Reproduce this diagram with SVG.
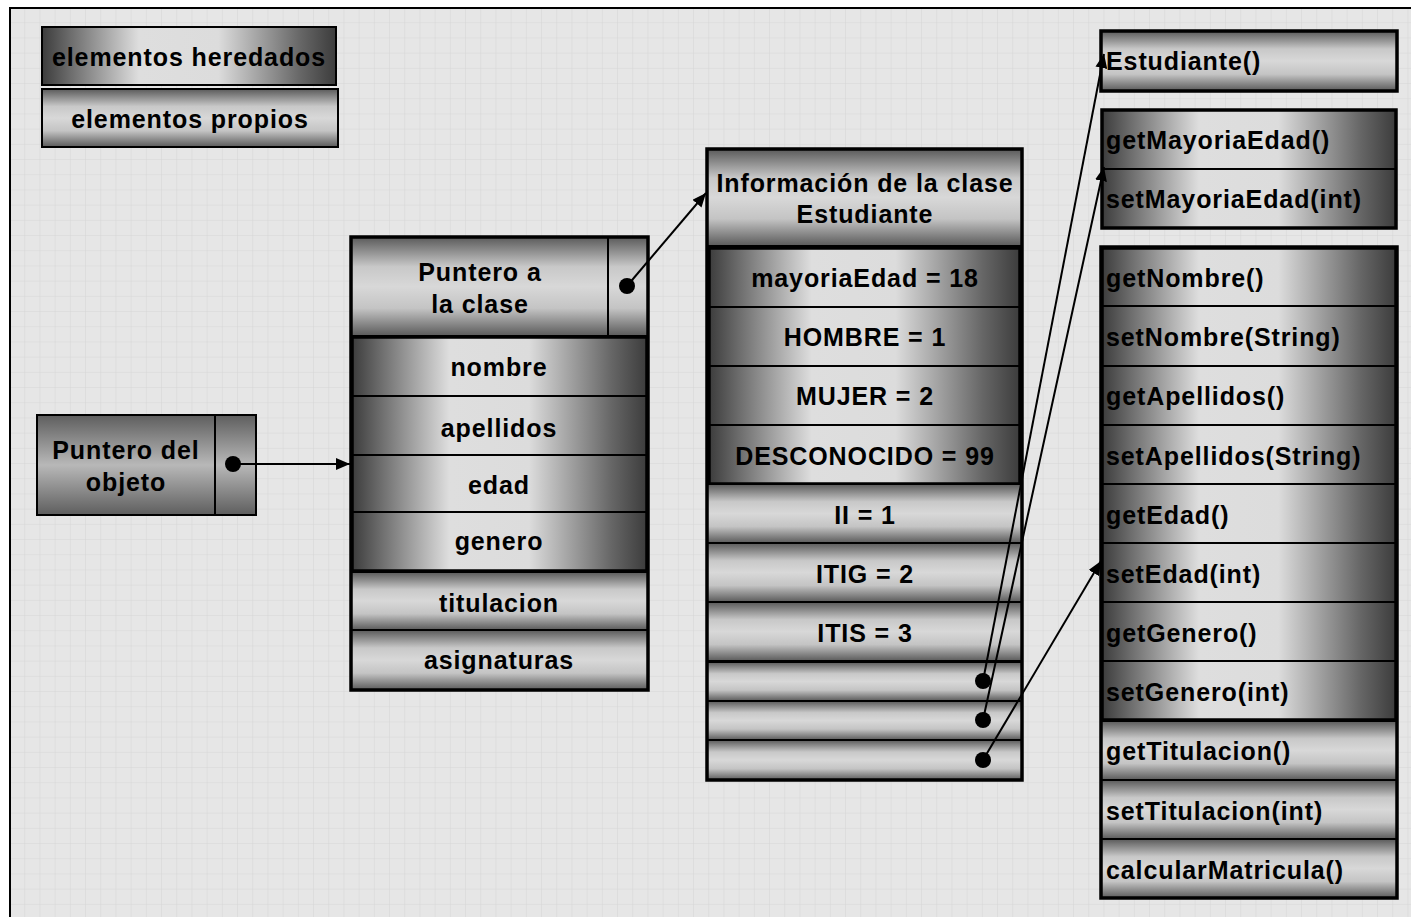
<svg xmlns="http://www.w3.org/2000/svg" width="1411" height="917" viewBox="0 0 1411 917">
  <defs>
    <style>
      text { font-family: "Liberation Sans", Arial, sans-serif; font-weight: bold; font-size: 25px; letter-spacing: 0.9px; fill: #000; }
      .c { text-anchor: middle; }
      .l { text-anchor: start; }
      .her { fill: url(#gHer); stroke: #000; stroke-width: 2; }
      .pro { fill: url(#gPro); stroke: #000; stroke-width: 2; }
      .ptr { fill: url(#gPtr); stroke: #000; stroke-width: 2; }
      .box { fill: none; stroke: #000; stroke-width: 3.5; }
      .sep { stroke: #000; stroke-width: 2; }
      .conn { stroke: #000; stroke-width: 2; fill: none; }
      .dot { fill: #000; }
    </style>
    <!-- inherited members: dark edges, light centre, horizontal -->
    <linearGradient id="gHer" x1="0" y1="0" x2="1" y2="0">
      <stop offset="0" stop-color="#3c3c3c"/>
      <stop offset="0.1" stop-color="#6e6e6e"/>
      <stop offset="0.33" stop-color="#dedede"/>
      <stop offset="0.6" stop-color="#dcdcdc"/>
      <stop offset="0.88" stop-color="#666666"/>
      <stop offset="1" stop-color="#3c3c3c"/>
    </linearGradient>
    <!-- own members: dark top/bottom, light centre, vertical -->
    <linearGradient id="gPro" x1="0" y1="0" x2="0" y2="1">
      <stop offset="0" stop-color="#5a5a5a"/>
      <stop offset="0.3" stop-color="#c8c8c8"/>
      <stop offset="0.5" stop-color="#d8d8d8"/>
      <stop offset="0.72" stop-color="#c4c4c4"/>
      <stop offset="1" stop-color="#5a5a5a"/>
    </linearGradient>
    <!-- object pointer: darker vertical shading -->
    <linearGradient id="gPtr" x1="0" y1="0" x2="0" y2="1">
      <stop offset="0" stop-color="#5e5e5e"/>
      <stop offset="0.5" stop-color="#b8b8b8"/>
      <stop offset="1" stop-color="#5e5e5e"/>
    </linearGradient>
    <pattern id="grid" x="10" y="8" width="15.2" height="15.2" patternUnits="userSpaceOnUse">
      <rect width="15.2" height="15.2" fill="#e6e6e6"/>
      <path d="M15.2 0V15.2M0 15.2H15.2" stroke="#d6d6d6" stroke-width="1"/>
    </pattern>
    <marker id="arrow" viewBox="0 0 14 12" refX="14" refY="6" markerWidth="14" markerHeight="12" markerUnits="userSpaceOnUse" orient="auto">
      <path d="M0 0L14 6L0 12z" fill="#000"/>
    </marker>
  </defs>

  <!-- canvas -->
  <rect width="1411" height="917" fill="#fff"/>
  <rect x="10" y="8" width="1420" height="930" fill="url(#grid)" stroke="#000" stroke-width="2"/>

  <!-- legend -->
  <g id="legend-heredados">
    <rect x="42" y="27" width="294" height="58" class="her"/>
    <text x="189" y="66" class="c">elementos heredados</text>
  </g>
  <g id="legend-propios">
    <rect x="42" y="89" width="296" height="58" class="pro"/>
    <text x="190" y="128" class="c">elementos propios</text>
  </g>

  <!-- object pointer -->
  <g id="puntero-objeto">
    <rect x="37" y="415" width="219" height="100" class="ptr"/>
    <line x1="215" y1="415" x2="215" y2="515" class="sep"/>
    <text x="126" y="459" class="c">Puntero del</text>
    <text x="126" y="491" class="c">objeto</text>
  </g>

  <!-- object instance -->
  <g id="objeto">
    <rect x="351" y="237" width="297" height="99" class="pro"/>
    <line x1="608" y1="237" x2="608" y2="336" class="sep"/>
    <text x="480" y="281" class="c">Puntero a</text>
    <text x="480" y="313" class="c">la clase</text>
    <rect x="352" y="337" width="295" height="59" class="her"/>
    <text x="499" y="376" class="c">nombre</text>
    <rect x="352" y="396" width="295" height="59" class="her"/>
    <text x="499" y="437" class="c">apellidos</text>
    <rect x="352" y="455" width="295" height="57" class="her"/>
    <text x="499" y="494" class="c">edad</text>
    <rect x="352" y="512" width="295" height="59" class="her"/>
    <text x="499" y="550" class="c">genero</text>
    <rect x="352" y="337" width="295" height="234" class="box"/>
    <rect x="351" y="572" width="297" height="58" class="pro"/>
    <text x="499" y="612" class="c">titulacion</text>
    <rect x="351" y="630" width="297" height="60" class="pro"/>
    <text x="499" y="669" class="c">asignaturas</text>
    <rect x="351" y="237" width="297" height="453" class="box"/>
  </g>

  <!-- class information -->
  <g id="info-clase">
    <rect x="707" y="149" width="315" height="97" class="pro"/>
    <text x="865" y="192" class="c">Información de la clase</text>
    <text x="865" y="223" class="c">Estudiante</text>
    <rect x="709" y="248" width="311" height="59" class="her"/>
    <text x="865" y="287" class="c">mayoriaEdad = 18</text>
    <rect x="709" y="307" width="311" height="59" class="her"/>
    <text x="865" y="346" class="c">HOMBRE = 1</text>
    <rect x="709" y="366" width="311" height="59" class="her"/>
    <text x="865" y="405" class="c">MUJER = 2</text>
    <rect x="709" y="425" width="311" height="59" class="her"/>
    <text x="865" y="465" class="c">DESCONOCIDO = 99</text>
    <rect x="709" y="248" width="311" height="236" class="box"/>
    <rect x="707" y="484" width="315" height="59" class="pro"/>
    <text x="865" y="524" class="c">II = 1</text>
    <rect x="707" y="543" width="315" height="59" class="pro"/>
    <text x="865" y="583" class="c">ITIG = 2</text>
    <rect x="707" y="602" width="315" height="59" class="pro"/>
    <text x="865" y="642" class="c">ITIS = 3</text>
    <rect x="707" y="662" width="315" height="39" class="pro"/>
    <rect x="707" y="701" width="315" height="39" class="pro"/>
    <rect x="707" y="740" width="315" height="40" class="pro"/>
    <rect x="707" y="149" width="315" height="631" class="box"/>
  </g>

  <!-- methods -->
  <g id="constructor">
    <rect x="1101" y="31" width="296" height="60" class="pro"/>
    <text x="1106" y="70" class="l">Estudiante()</text>
    <rect x="1101" y="31" width="296" height="60" class="box"/>
  </g>
  <g id="metodos-clase">
    <rect x="1102" y="110" width="294" height="59" class="her"/>
    <text x="1106" y="149" class="l">getMayoriaEdad()</text>
    <rect x="1102" y="169" width="294" height="59" class="her"/>
    <text x="1106" y="208" class="l">setMayoriaEdad(int)</text>
    <rect x="1102" y="110" width="294" height="118" class="box"/>
  </g>
  <g id="metodos-instancia">
    <rect x="1102" y="248" width="294" height="58" class="her"/>
    <text x="1106" y="287" class="l">getNombre()</text>
    <rect x="1102" y="306" width="294" height="60" class="her"/>
    <text x="1106" y="346" class="l">setNombre(String)</text>
    <rect x="1102" y="366" width="294" height="59" class="her"/>
    <text x="1106" y="405" class="l">getApellidos()</text>
    <rect x="1102" y="425" width="294" height="59" class="her"/>
    <text x="1106" y="465" class="l">setApellidos(String)</text>
    <rect x="1102" y="484" width="294" height="59" class="her"/>
    <text x="1106" y="524" class="l">getEdad()</text>
    <rect x="1102" y="543" width="294" height="59" class="her"/>
    <text x="1106" y="583" class="l">setEdad(int)</text>
    <rect x="1102" y="602" width="294" height="59" class="her"/>
    <text x="1106" y="642" class="l">getGenero()</text>
    <rect x="1102" y="661" width="294" height="59" class="her"/>
    <text x="1106" y="701" class="l">setGenero(int)</text>
    <rect x="1102" y="248" width="294" height="472" class="box"/>
    <rect x="1101" y="721" width="296" height="59" class="pro"/>
    <text x="1106" y="760" class="l">getTitulacion()</text>
    <rect x="1101" y="780" width="296" height="59" class="pro"/>
    <text x="1106" y="820" class="l">setTitulacion(int)</text>
    <rect x="1101" y="839" width="296" height="59" class="pro"/>
    <text x="1106" y="879" class="l">calcularMatricula()</text>
    <rect x="1101" y="247" width="296" height="651" class="box"/>
  </g>

  <!-- pointers -->
  <g id="conectores">
    <line x1="233" y1="464" x2="350" y2="464" class="conn" marker-end="url(#arrow)"/>
    <circle cx="233" cy="464" r="8" class="dot"/>
    <line x1="627" y1="286" x2="706" y2="193" class="conn" marker-end="url(#arrow)"/>
    <circle cx="627" cy="286" r="8" class="dot"/>
    <line x1="983" y1="681" x2="1104" y2="54" class="conn" marker-end="url(#arrow)"/>
    <circle cx="983" cy="681" r="8" class="dot"/>
    <line x1="983" y1="720" x2="1104" y2="167" class="conn" marker-end="url(#arrow)"/>
    <circle cx="983" cy="720" r="8" class="dot"/>
    <line x1="983" y1="760" x2="1101" y2="561" class="conn" marker-end="url(#arrow)"/>
    <circle cx="983" cy="760" r="8" class="dot"/>
  </g>
</svg>
